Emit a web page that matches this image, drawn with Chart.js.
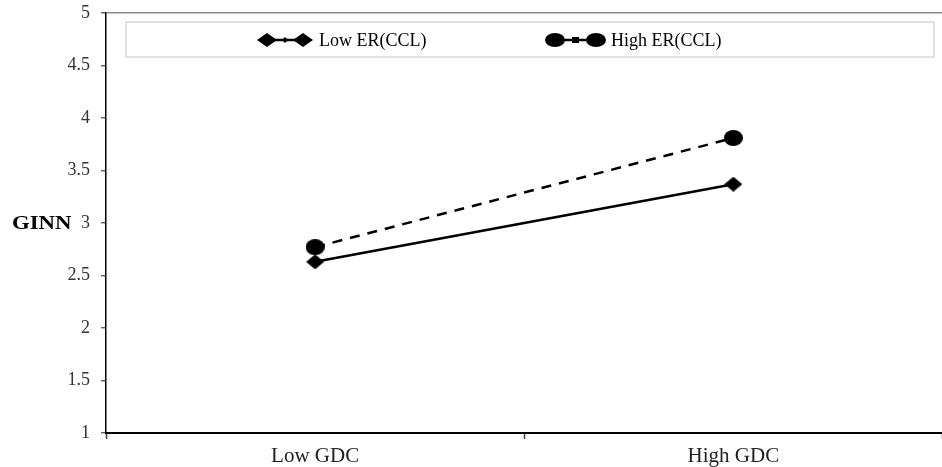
<!DOCTYPE html>
<html>
<head>
<meta charset="utf-8">
<script src="https://cdn.jsdelivr.net/npm/chart.js@4"></script>
<style>
  html, body { margin: 0; padding: 0; background: #fff; overflow: hidden; }
</style>
</head>
<body>
<canvas id="chart" width="942" height="467"></canvas>
<script>
// --- data ---
const categories = ['Low GDC', 'High GDC'];
const lowER = [2.63, 3.37];
const highER = [2.77, 3.81];
const seriesNames = ['Low ER(CCL)', 'High ER(CCL)'];
const yTicks = [1, 1.5, 2, 2.5, 3, 3.5, 4, 4.5, 5];
const yTitle = 'GINN';

const SERIF = '"Liberation Serif", "DejaVu Serif", serif';

// markers are a bit wider than tall in the original
function makeMarker(kind, w, h) {
  const c = document.createElement('canvas');
  c.width = w; c.height = h;
  const g = c.getContext('2d');
  g.fillStyle = '#000';
  g.beginPath();
  if (kind === 'diamond') {
    g.moveTo(w / 2, 0); g.lineTo(w, h / 2); g.lineTo(w / 2, h); g.lineTo(0, h / 2);
    g.closePath();
  } else {
    g.ellipse(w / 2, h / 2, w / 2, h / 2, 0, 0, Math.PI * 2);
  }
  g.fill();
  return c;
}
const diamond = makeMarker('diamond', 18, 15);
const dot = makeMarker('circle', 19, 16);

function drawShape(ctx, kind, x, y, w, h) {
  ctx.beginPath();
  if (kind === 'diamond') {
    ctx.moveTo(x, y - h / 2); ctx.lineTo(x + w / 2, y); ctx.lineTo(x, y + h / 2); ctx.lineTo(x - w / 2, y);
    ctx.closePath();
  } else if (kind === 'square') {
    ctx.rect(x - w / 2, y - h / 2, w, h);
  } else {
    ctx.ellipse(x, y, w / 2, h / 2, 0, 0, Math.PI * 2);
  }
  ctx.fill();
}

// the plot area of the original runs ~11px past the right edge
const stretchX = {
  id: 'stretchX',
  afterLayout(chart) {
    const extra = 11;
    const x = chart.scales.x;
    x.right += extra;
    x.width += extra;
    chart.chartArea.right += extra;
    chart.chartArea.width += extra;
    x.configure();
  }
};

// Excel-style legend box inside the plot
const boxLegend = {
  id: 'boxLegend',
  afterDraw(chart) {
    const ctx = chart.ctx;
    ctx.save();
    ctx.fillStyle = '#fff';
    ctx.strokeStyle = '#d9d9d9';
    ctx.lineWidth = 1.5;
    ctx.fillRect(126, 22, 808, 35);
    ctx.strokeRect(126, 22, 808, 35);

    const y = 40;
    const items = [
      { x0: 267, x1: 303, end: 'diamond', mid: 'diamond', mw: 6, mh: 6, text: seriesNames[0], tx: 319 },
      { x0: 555, x1: 596, end: 'circle', mid: 'square', mw: 7, mh: 6, text: seriesNames[1], tx: 611 }
    ];
    ctx.fillStyle = '#000';
    ctx.strokeStyle = '#000';
    items.forEach(it => {
      ctx.lineWidth = 2.5;
      ctx.beginPath();
      ctx.moveTo(it.x0, y);
      ctx.lineTo(it.x1, y);
      ctx.stroke();
      drawShape(ctx, it.end, it.x0, y, 20, 14);
      drawShape(ctx, it.end, it.x1, y, 20, 14);
      drawShape(ctx, it.mid, (it.x0 + it.x1) / 2, y, it.mw, it.mh);
      ctx.font = '18px ' + SERIF;
      ctx.textBaseline = 'middle';
      ctx.textAlign = 'left';
      ctx.fillText(it.text, it.tx, y + 1);
    });

    // y title placed next to the "3" tick, a bit wide like the original
    const ys = chart.scales.y;
    ctx.font = 'bold 19px ' + SERIF;
    ctx.textAlign = 'left';
    ctx.translate(12, ys.getPixelForValue(3) + 1);
    ctx.scale(1.2, 1);
    ctx.fillText(yTitle, 0, 0);
    ctx.restore();
  }
};

new Chart(document.getElementById('chart'), {
  type: 'line',
  data: {
    labels: categories,
    datasets: [
      {
        label: seriesNames[0],
        data: lowER,
        borderColor: '#000',
        backgroundColor: '#000',
        borderWidth: 2.5,
        pointStyle: diamond,
        pointRadius: 8
      },
      {
        label: seriesNames[1],
        data: highER,
        borderColor: '#000',
        backgroundColor: '#000',
        borderWidth: 2.5,
        borderDash: [10, 8],
        pointStyle: dot,
        pointRadius: 8
      }
    ]
  },
  options: {
    responsive: false,
    devicePixelRatio: 1,
    animation: false,
    layout: { padding: { top: 13, left: 0, right: 0, bottom: 0 } },
    plugins: {
      legend: { display: false },
      tooltip: { enabled: false }
    },
    scales: {
      x: {
        type: 'category',
        offset: true,
        grid: {
          offset: true,
          drawOnChartArea: false,
          drawTicks: true,
          tickLength: 6,
          tickColor: '#444',
          tickWidth: 1.5
        },
        border: { color: '#000', width: 2 },
        ticks: { font: { family: SERIF, size: 21 }, color: '#222', padding: 5 },
        afterFit: s => { s.height = 34; }
      },
      y: {
        min: 1,
        max: 5,
        afterBuildTicks: s => { s.ticks = yTicks.map(v => ({ value: v })); },
        grid: {
          color: c => (c.tick && c.tick.value === 5 ? '#8c8c8c' : 'rgba(0,0,0,0)'),
          lineWidth: 1.5,
          tickLength: 5,
          tickColor: '#444',
          tickWidth: 1.2
        },
        border: { color: '#000', width: 1.5 },
        ticks: {
          font: { family: SERIF, size: 18 },
          color: '#333',
          padding: 11,
          callback: v => String(v)
        },
        afterFit: s => {
          s.width = 106;
          s.paddingTop = 0;
          s.paddingBottom = 0;
        }
      }
    }
  },
  plugins: [stretchX, boxLegend]
});
</script>
</body>
</html>
